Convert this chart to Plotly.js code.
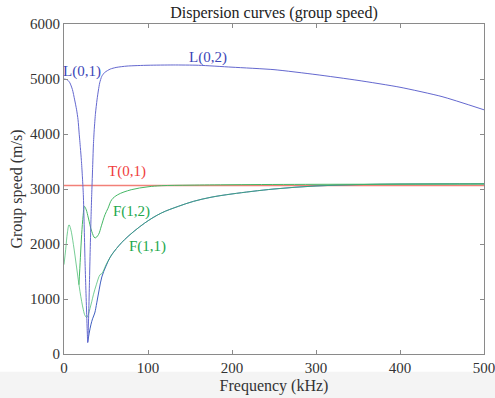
<!DOCTYPE html>
<html>
<head>
<meta charset="utf-8">
<script src="https://cdn.plot.ly/plotly-3.0.1.min.js"></script>
<style>html,body{margin:0;padding:0;background:#fff;}#chart{width:495px;height:398px;}</style>
</head>
<body>
<div id="chart"></div>
<script>
// L(0,1) -> L(0,2) branch (blue)
const freqL  = [0, 4, 7, 10, 12.7, 15, 16.7, 18, 19.5, 20.7, 21.8, 23, 24, 25, 26, 27, 27.7, 28.2, 28.8, 29.5, 30.3, 31.2, 32.2, 33, 34, 35, 36, 37.5, 39.3, 41, 42.5, 45, 48.5, 55, 62, 75, 100, 130, 160, 200, 250, 300, 350, 400, 450, 500];
const speedL = [5000, 4985, 4930, 4810, 4620, 4440, 4260, 4020, 3750, 3520, 3250, 2900, 2350, 1700, 1200, 720, 400, 210, 400, 780, 1300, 1900, 2500, 2900, 3350, 3800, 4080, 4380, 4620, 4800, 4930, 5050, 5120, 5180, 5210, 5235, 5250, 5255, 5250, 5215, 5170, 5080, 4975, 4850, 4680, 4440];
// blue branch running along F(1,1)
const freqLB  = [28.2, 30, 32, 34, 36.6, 39, 42, 45, 50, 55, 60, 72, 96, 116, 136, 154, 175, 200, 250, 300, 350, 400, 450, 500];
const speedLB = [210, 380, 530, 640, 745, 930, 1180, 1400, 1600, 1760, 1870, 2078, 2380, 2564, 2684, 2775, 2850, 2910, 3000, 3055, 3080, 3090, 3093, 3095];
// F(1,1) (green)
const freqF11  = [0, 2, 4, 6, 8, 11.2, 15.1, 19, 23, 25, 27, 29, 31, 33, 35, 38.5, 42.9, 45, 50, 55, 60, 72, 96, 116, 136, 154, 175, 200, 250, 300, 350, 400, 450, 500];
const speedF11 = [1625, 1900, 2200, 2350, 2270, 1990, 1564, 1138, 805, 700, 665, 720, 830, 950, 1078, 1260, 1442, 1460, 1620, 1760, 1870, 2078, 2380, 2564, 2684, 2775, 2850, 2910, 3000, 3055, 3080, 3090, 3093, 3095];
// F(1,2) (green)
const freqF12  = [17.8, 19.5, 21, 22.8, 24.3, 26.5, 29, 33, 36.9, 41, 44.5, 48.8, 52.4, 56.8, 64, 80, 100, 116, 150, 200, 300, 400, 500];
const speedF12 = [1260, 1750, 2170, 2520, 2685, 2620, 2473, 2230, 2110, 2170, 2330, 2533, 2650, 2805, 2896, 2987, 3040, 3060, 3070, 3078, 3085, 3088, 3090];
// T(0,1) (red)
const freqT  = [0, 500];
const speedT = [3065, 3065];
// mode labels
const labelText = ["L(0,1)", "L(0,2)", "T(0,1)", "F(1,2)", "F(1,1)"];
const labelX    = [22, 171, 74.6, 80.7, 99.6];
const labelY    = [5133, 5387, 3315, 2587, 1951];

const blue = "#6468cf", green = "#45b865", red = "#f28078";
const labelColors = ["#3c46b8", "#3c46b8", "#f03c3c", "#22a84c", "#22a84c"];
const serif = '"Liberation Serif", "Times New Roman", serif';

const traces = [
  {x: freqT, y: speedT, mode: "lines", line: {color: red, width: 1.4}, hoverinfo: "skip"},
  {x: freqLB, y: speedLB, mode: "lines", line: {color: "#3f5fc0", width: 1, shape: "spline"}, hoverinfo: "skip"},
  {x: freqF11, y: speedF11, mode: "lines", line: {color: "#3cb868", width: 1, shape: "spline"}, opacity: 0.7, hoverinfo: "skip"},
  {x: freqF12, y: speedF12, mode: "lines", line: {color: green, width: 1, shape: "spline"}, hoverinfo: "skip"},
  {x: freqL, y: speedL, mode: "lines", line: {color: blue, width: 1, shape: "spline", smoothing: 0.6}, hoverinfo: "skip"}
];

const annotations = labelText.map((t, i) => ({
  x: labelX[i], y: labelY[i], xref: "x", yref: "y", text: t, showarrow: false,
  font: {family: serif, size: 15, color: labelColors[i]}
}));

const axisCommon = {
  showgrid: false, zeroline: false, showline: true, linecolor: "#8a8a8a", linewidth: 1,
  mirror: "ticks", ticks: "inside", ticklen: 4, tickcolor: "#8a8a8a",
  ticklabeloverflow: "allow",
  tickfont: {family: serif, size: 15, color: "#333"}
};

const layout = {
  width: 495, height: 398,
  margin: {l: 64, r: 11, t: 24, b: 44},
  paper_bgcolor: "#fff", plot_bgcolor: "#fff",
  showlegend: false,
  title: {text: "Dispersion curves (group speed)", x: 0.5, xref: "paper", xanchor: "center",
          y: 0.97, yref: "container", yanchor: "middle",
          font: {family: serif, size: 16, color: "#222"}},
  xaxis: Object.assign({}, axisCommon, {range: [0, 500], tickvals: [0, 100, 200, 300, 400, 500],
          title: {text: "Frequency (kHz)", standoff: 4, font: {family: serif, size: 16, color: "#333"}}}),
  yaxis: Object.assign({}, axisCommon, {range: [0, 6000], tickvals: [0, 1000, 2000, 3000, 4000, 5000, 6000],
          title: {text: "Group speed (m/s)", standoff: 3, font: {family: serif, size: 16, color: "#333"}}}),
  shapes: [{type: "rect", xref: "paper", yref: "paper", x0: -0.2, x1: 1.1, y0: -0.2, y1: -0.054,
            fillcolor: "#f4f4f4", line: {width: 0}, layer: "below"}],
  annotations: annotations
};

Plotly.newPlot("chart", traces, layout, {staticPlot: true, displayModeBar: false});
</script>
</body>
</html>
